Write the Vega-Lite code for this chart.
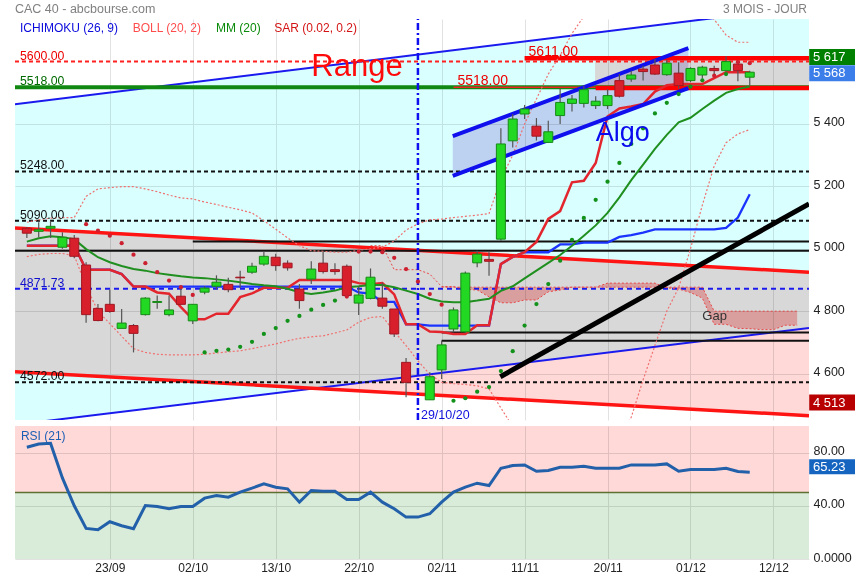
{
"$schema":"https://vega.github.io/schema/vega-lite/v6.json",
"background":"white",
"padding":{"left":14,"top":2,"right":0,"bottom":0},
"spacing":4,
"config":{"view":{"stroke":null},"font":"Liberation Sans"},
"datasets":{
"px":[
{"n":0,"o":5066,"h":5070,"l":5035,"c":5050,"t":5010,"k":5010,"m":5023,"bu":5085,"bl":4975,"r":84},
{"n":1,"o":5056,"h":5085,"l":5037,"c":5061,"t":5010,"k":5010,"m":5034,"bu":5093,"bl":4982,"r":86.5},
{"n":2,"o":5066,"h":5090,"l":5035,"c":5072,"t":5010,"k":5010,"m":5040,"bu":5098,"bl":4985,"r":87},
{"n":3,"o":5005,"h":5053,"l":5000,"c":5037,"t":5010,"k":5010,"m":5037,"bu":5100,"bl":4985,"r":61},
{"n":4,"o":5034,"h":5044,"l":4970,"c":4976,"t":5010,"k":5010,"m":5031,"bu":5100,"bl":4978,"r":40},
{"n":5,"o":4948,"h":4957,"l":4763,"c":4789,"t":4933,"k":4933,"m":4999,"bu":5168,"bl":4880,"s":5079,"r":23},
{"n":6,"o":4809,"h":4823,"l":4768,"c":4770,"t":4933,"k":4933,"m":4973,"bu":5192,"bl":4800,"s":5058,"r":22},
{"n":7,"o":4822,"h":4869,"l":4795,"c":4799,"t":4933,"k":4933,"m":4957,"bu":5196,"bl":4760,"s":5042,"r":28},
{"n":8,"o":4745,"h":4807,"l":4745,"c":4762,"t":4919,"k":4919,"m":4945,"bu":5199,"bl":4720,"s":5018,"r":25},
{"n":9,"o":4754,"h":4759,"l":4668,"c":4729,"t":4879,"k":4879,"m":4935,"bu":5199,"bl":4680,"s":4981,"r":22.75},
{"n":10,"o":4789,"h":4845,"l":4786,"c":4842,"t":4879,"k":4879,"m":4930,"bu":5192,"bl":4668,"s":4954,"r":40.25},
{"n":11,"o":4828,"h":4850,"l":4808,"c":4831,"t":4860,"k":4879,"m":4922,"bu":5183,"bl":4662,"s":4925,"r":39.5},
{"n":12,"o":4789,"h":4850,"l":4784,"c":4804,"t":4856,"k":4879,"m":4917,"bu":5172,"bl":4660,"s":4898,"r":37.75},
{"n":13,"o":4848,"h":4880,"l":4820,"c":4822,"t":4813,"k":4879,"m":4912,"bu":5163,"bl":4660,"s":4877,"r":39.5},
{"n":14,"o":4769,"h":4822,"l":4759,"c":4822,"t":4774,"k":4879,"m":4908,"bu":5160,"bl":4660,"s":4852,"r":39.5},
{"n":15,"o":4861,"h":4880,"l":4854,"c":4874,"t":4774,"k":4879,"m":4906,"bu":5150,"bl":4662,"s":4668,"r":45.75},
{"n":16,"o":4880,"h":4915,"l":4870,"c":4893,"t":4792,"k":4879,"m":4902,"bu":5142,"bl":4666,"s":4673,"r":47.75},
{"n":17,"o":4886,"h":4907,"l":4861,"c":4869,"t":4792,"k":4879,"m":4898,"bu":5133,"bl":4670,"s":4677,"r":46.5},
{"n":18,"o":4909,"h":4930,"l":4874,"c":4907,"t":4845,"k":4879,"m":4893,"bu":5125,"bl":4673,"s":4686,"r":50.25},
{"n":19,"o":4925,"h":4955,"l":4920,"c":4944,"t":4857,"k":4879,"m":4887,"bu":5115,"bl":4680,"s":4702,"r":53.25},
{"n":20,"o":4951,"h":4991,"l":4946,"c":4976,"t":4875,"k":4879,"m":4883,"bu":5090,"bl":4688,"s":4727,"r":56.5},
{"n":21,"o":4973,"h":4984,"l":4930,"c":4946,"t":4875,"k":4879,"m":4880,"bu":5063,"bl":4695,"s":4746,"r":54},
{"n":22,"o":4954,"h":4963,"l":4930,"c":4939,"t":4875,"k":4879,"m":4872,"bu":5035,"bl":4705,"s":4769,"r":52.75},
{"n":23,"o":4871,"h":4887,"l":4808,"c":4834,"t":4900,"k":4879,"m":4861,"bu":5010,"bl":4713,"s":4785,"r":42.75},
{"n":24,"o":4903,"h":4960,"l":4887,"c":4935,"t":4900,"k":4879,"m":4855,"bu":4994,"bl":4718,"s":4805,"r":51.5},
{"n":25,"o":4954,"h":4991,"l":4921,"c":4927,"t":4900,"k":4879,"m":4860,"bu":4992,"bl":4721,"s":4820,"r":51},
{"n":26,"o":4933,"h":4954,"l":4917,"c":4927,"t":4900,"k":4879,"m":4866,"bu":4989,"bl":4730,"s":4834,"r":51},
{"n":27,"o":4944,"h":4950,"l":4847,"c":4850,"t":4900,"k":4879,"m":4877,"bu":4989,"bl":4740,"s":4847,"r":44.75},
{"n":28,"o":4826,"h":4880,"l":4788,"c":4852,"t":4890,"k":4860,"m":4880,"bu":4995,"bl":4765,"s":4991,"r":44.75},
{"n":29,"o":4841,"h":4937,"l":4838,"c":4909,"t":4886,"k":4856,"m":4884,"bu":5000,"bl":4780,"s":4991,"r":50.25,"a":5010},
{"n":30,"o":4842,"h":4891,"l":4808,"c":4816,"t":4890,"k":4830,"m":4884,"bu":5005,"bl":4783,"s":4989,"r":42.75,"a":5010},
{"n":31,"o":4807,"h":4807,"l":4717,"c":4727,"t":4854,"k":4830,"m":4877,"bu":5025,"bl":4735,"s":4971,"r":37.75,"a":4933},
{"n":32,"o":4636,"h":4650,"l":4524,"c":4572,"t":4758,"k":4758,"m":4866,"bu":5060,"bl":4690,"s":4935,"r":31.5,"a":4933},
{"n":33,"t":4758,"k":4758,"m":4855,"bu":5080,"bl":4641,"s":4895,"r":31.5,"a":4933},
{"n":34,"o":4516,"h":4604,"l":4516,"c":4590,"t":4735,"k":4754,"m":4840,"bu":5093,"bl":4598,"s":4855,"r":34,"a":4919},
{"n":35,"o":4612,"h":4705,"l":4583,"c":4692,"t":4733,"k":4754,"m":4831,"bu":5095,"bl":4572,"s":4821,"r":42.75,"a":4879,"b":4877},
{"n":36,"o":4743,"h":4812,"l":4732,"c":4804,"t":4727,"k":4754,"m":4829,"bu":5100,"bl":4568,"s":4513,"r":50.25,"a":4879,"b":4877},
{"n":37,"o":4734,"h":4927,"l":4730,"c":4922,"t":4727,"k":4754,"m":4829,"bu":5104,"bl":4565,"s":4521,"r":54,"a":4870,"b":4877},
{"n":38,"o":4955,"h":4994,"l":4941,"c":4983,"t":4755,"k":4754,"m":4834,"bu":5108,"bl":4561,"s":4542,"r":57,"a":4868,"b":4877},
{"n":39,"o":4966,"h":4989,"l":4914,"c":4960,"t":4755,"k":4754,"m":4840,"bu":5113,"bl":4551,"s":4557,"r":55.25,"a":4846,"b":4877},
{"n":40,"o":5031,"h":5386,"l":5026,"c":5336,"t":4951,"k":4951,"m":4865,"bu":5224,"bl":4490,"s":4608,"r":68.25,"a":4827,"b":4877},
{"n":41,"o":5346,"h":5432,"l":5325,"c":5416,"t":4974,"k":4974,"m":4880,"bu":5300,"bl":4430,"s":4672,"r":70.25,"a":4827,"b":4877},
{"n":42,"o":5432,"h":5461,"l":5416,"c":5448,"t":4989,"k":4989,"m":4905,"bu":5400,"bl":4380,"s":4754,"r":70.75,"a":4836,"b":4877},
{"n":43,"o":5393,"h":5419,"l":5347,"c":5361,"t":5022,"k":4989,"m":4930,"bu":5480,"bl":4340,"s":4823,"r":66,"a":4836,"b":4877},
{"n":44,"o":5341,"h":5410,"l":5341,"c":5375,"t":5096,"k":4989,"m":4955,"bu":5560,"bl":4310,"s":4887,"r":66.5,"a":4862,"b":4877},
{"n":45,"o":5427,"h":5512,"l":5400,"c":5469,"t":5121,"k":5014,"m":4980,"bu":5620,"bl":4290,"s":4962,"r":69,"a":4868,"b":4877},
{"n":46,"o":5466,"h":5493,"l":5440,"c":5480,"t":5213,"k":5014,"m":5010,"bu":5690,"bl":4280,"s":5029,"r":69,"a":4877,"b":4877},
{"n":47,"o":5466,"h":5523,"l":5453,"c":5510,"t":5218,"k":5020,"m":5042,"bu":5745,"bl":4280,"s":5099,"r":69.75,"a":4877,"b":4877},
{"n":48,"o":5459,"h":5489,"l":5448,"c":5473,"t":5275,"k":5020,"m":5075,"bu":5790,"bl":4300,"s":5157,"r":68.25,"a":4877,"b":4877},
{"n":49,"o":5459,"h":5512,"l":5448,"c":5491,"t":5424,"k":5020,"m":5115,"bu":5820,"bl":4340,"s":5215,"r":68.25,"a":4890,"b":4877},
{"n":50,"o":5539,"h":5560,"l":5485,"c":5489,"t":5450,"k":5038,"m":5165,"bu":5840,"bl":4400,"s":5275,"r":68.25,"a":4890,"b":4877},
{"n":51,"o":5544,"h":5571,"l":5535,"c":5557,"t":5456,"k":5044,"m":5220,"bu":5850,"bl":4460,"s":5336,"r":70.75,"a":4890,"b":4877},
{"n":52,"o":5576,"h":5587,"l":5539,"c":5568,"t":5464,"k":5052,"m":5270,"bu":5850,"bl":4580,"s":5386,"r":70.75,"a":4890,"b":4877},
{"n":53,"o":5589,"h":5608,"l":5557,"c":5560,"t":5504,"k":5062,"m":5320,"bu":5840,"bl":4690,"s":5434,"r":70.75,"a":4890,"b":4877},
{"n":54,"o":5558,"h":5606,"l":5555,"c":5595,"t":5524,"k":5062,"m":5365,"bu":5830,"bl":4800,"s":5468,"r":71.5,"a":4875,"b":4877},
{"n":55,"o":5563,"h":5598,"l":5514,"c":5523,"t":5528,"k":5062,"m":5405,"bu":5830,"bl":4875,"s":5496,"r":66,"a":4871,"b":4877},
{"n":56,"o":5539,"h":5582,"l":5534,"c":5578,"t":5528,"k":5062,"m":5420,"bu":5810,"bl":5000,"s":5520,"r":67.25,"a":4860,"b":4877},
{"n":57,"o":5557,"h":5587,"l":5546,"c":5582,"t":5528,"k":5062,"m":5448,"bu":5780,"bl":5140,"s":5540,"r":67.25,"a":4842,"b":4877},
{"n":58,"o":5578,"h":5587,"l":5553,"c":5571,"t":5547,"k":5062,"m":5475,"bu":5735,"bl":5266,"s":5555,"r":67.25,"a":4758,"b":4800},
{"n":59,"o":5571,"h":5617,"l":5568,"c":5600,"t":5566,"k":5067,"m":5500,"bu":5685,"bl":5340,"s":5560,"r":68.25,"a":4758,"b":4800},
{"n":60,"o":5592,"h":5598,"l":5537,"c":5571,"t":5566,"k":5100,"m":5512,"bu":5662,"bl":5368,"s":5598,"r":65.75,"a":4745,"b":4800},
{"n":61,"o":5550,"h":5571,"l":5523,"c":5566,"t":5566,"k":5175,"m":5520,"bu":5662,"bl":5382,"s":5595,"r":65.25,"a":4744,"b":4800},
{"n":62,"a":4741,"b":4800},
{"n":63,"a":4741,"b":4800},
{"n":64,"a":4755,"b":4800},
{"n":65,"a":4755,"b":4800}
],
"segs":[
{"k":"bt","n1":-1,"p1":5463,"n2":66,"p2":5777},
{"k":"bt","n1":-1,"p1":4436,"n2":66,"p2":4746},
{"k":"rt","n1":-1,"p1":5067,"n2":66,"p2":4925},
{"k":"rt","n1":-1,"p1":4606,"n2":66,"p2":4465},
{"k":"kd","n1":-1,"p1":5248,"n2":66,"p2":5248},
{"k":"kd","n1":-1,"p1":5090,"n2":66,"p2":5090},
{"k":"kd","n1":-1,"p1":4572,"n2":66,"p2":4572},
{"k":"bd","n1":-1,"p1":4871.73,"n2":66,"p2":4871.73},
{"k":"k2","n1":14,"p1":5023,"n2":66,"p2":5023},
{"k":"k2","n1":-1,"p1":4994,"n2":66,"p2":4994},
{"k":"k2","n1":35,"p1":4732,"n2":66,"p2":4732},
{"k":"k2","n1":35,"p1":4705,"n2":66,"p2":4705},
{"k":"rd","n1":-1,"p1":5600,"n2":66,"p2":5600},
{"k":"g","n1":-1,"p1":5518,"n2":66,"p2":5518},
{"k":"rthin","n1":36,"p1":5518,"n2":48,"p2":5518},
{"k":"rth","n1":48,"p1":5515,"n2":66,"p2":5515},
{"k":"rth","n1":42,"p1":5611,"n2":66,"p2":5611},
{"k":"bk5","n1":39.95,"p1":4590,"n2":66,"p2":5144},
{"k":"algo","n1":35.94,"p1":5361,"n2":55.82,"p2":5643},
{"k":"algo","n1":35.94,"p1":5234,"n2":55.82,"p2":5515},
{"k":"vd","n1":33,"p1":4451.3,"n2":33,"p2":5736.5}
],
"chanUp":[{"n":-1,"lo":4451.3,"hi":5463},{"n":2.31,"lo":4451.3,"hi":5478.5},{"n":57.37,"lo":4706.1,"hi":5736.5},{"n":66,"lo":4746,"hi":5736.5}],
"chanDn":[{"n":-1,"lo":4606,"hi":5067},{"n":66,"lo":4465,"hi":4925}],
"algo":[{"n":35.94,"lo":5234,"hi":5361},{"n":55.82,"lo":5515,"hi":5643}],
"lv":[
{"t":"5600.00","n":-1,"p":5600,"k":"r"},{"t":"5518.00","n":-1,"p":5518,"k":"g"},
{"t":"5248.00","n":-1,"p":5248,"k":"k"},{"t":"5090.00","n":-1,"p":5090,"k":"k"},
{"t":"4871.73","n":-1,"p":4871.73,"k":"b"},{"t":"4572.00","n":-1,"p":4572,"k":"k"},
{"t":"5611.00","n":42,"p":5611,"k":"r"},{"t":"5518.00","n":36,"p":5518,"k":"r"}
],
"leg":[
{"t":"ICHIMOKU (26, 9)","n":-0.58,"k":"i"},{"t":"BOLL (20, 2)","n":8.93,"k":"bo"},
{"t":"MM (20)","n":15.96,"k":"m"},{"t":"SAR (0.02, 0.2)","n":20.88,"k":"s"}
],
"badge":[{"t":"5 617","p":5615,"k":"g"},{"t":"5 568","p":5563,"k":"b"},{"t":"4 513","p":4507,"k":"r"}],
"zones":[{"z":"hi","lo":50,"hi":100},{"z":"lo","lo":0,"hi":50}]
},
"vconcat":[
{
"width":794,"height":401,
"resolve":{"scale":{"color":"independent"}},
"layer":[
{"data":{"name":"chanUp"},"mark":{"type":"area","blend":"multiply","color":"#d9ffff"},
 "encoding":{
  "x":{"field":"n","type":"quantitative","scale":{"domain":[-1,66],"nice":false,"zero":false,"padding":0},
   "axis":{"values":[7,14,21,28,35,42,49,56,63],"labels":false,"ticks":false,"domain":false,"grid":true,"gridColor":"#e2e2e2","title":null}},
  "y":{"field":"lo","type":"quantitative","scale":{"domain":[4451.3,5736.5],"nice":false,"zero":false},
   "axis":{"orient":"right","values":[4600,4800,5000,5200,5400],"labelExpr":"toString(floor(datum.value/1000)) + ' ' + substring(toString(datum.value), 1)","ticks":false,"domain":false,"grid":true,"gridColor":"#e2e2e2","labelFontSize":12.5,"labelColor":"#222222","labelPadding":4,"labelOffset":-2,"title":null}},
  "y2":{"field":"hi"}}},
{"data":{"name":"chanDn"},"mark":{"type":"area","blend":"multiply","color":"#ffd8d8"},
 "encoding":{"x":{"field":"n","type":"quantitative"},"y":{"field":"lo","type":"quantitative"},"y2":{"field":"hi"}}},
{"data":{"values":[{"n1":47.95,"n2":66,"p1":5518,"p2":5611}]},"mark":{"type":"rect","blend":"multiply","color":"#ffd8d8"},
 "encoding":{"x":{"field":"n1","type":"quantitative"},"x2":{"field":"n2"},"y":{"field":"p1","type":"quantitative"},"y2":{"field":"p2"}}},
{"data":{"name":"algo"},"mark":{"type":"area","blend":"multiply","color":"#ddd2f0"},
 "encoding":{"x":{"field":"n","type":"quantitative"},"y":{"field":"lo","type":"quantitative"},"y2":{"field":"hi"}}},
{"data":{"name":"px"},"transform":[{"filter":"isValid(datum.b)"}],"mark":{"type":"area","blend":"multiply","color":"#ffbcbc"},
 "encoding":{"x":{"field":"n","type":"quantitative"},"y":{"field":"a","type":"quantitative"},"y2":{"field":"b"}}},
{"data":{"name":"segs"},"transform":[{"filter":"datum.k=='bt'"}],"mark":{"type":"rule","clip":true,"color":"#1a1aee","strokeWidth":2},
 "encoding":{"x":{"field":"n1","type":"quantitative"},"x2":{"field":"n2"},"y":{"field":"p1","type":"quantitative"},"y2":{"field":"p2"}}},
{"data":{"name":"segs"},"transform":[{"filter":"datum.k=='rt'"}],"mark":{"type":"rule","clip":true,"color":"#ff1414","strokeWidth":3.5},
 "encoding":{"x":{"field":"n1","type":"quantitative"},"x2":{"field":"n2"},"y":{"field":"p1","type":"quantitative"},"y2":{"field":"p2"}}},
{"data":{"name":"segs"},"transform":[{"filter":"datum.k=='kd'"}],"mark":{"type":"rule","clip":true,"color":"#111111","strokeWidth":2,"strokeDash":[4,3]},
 "encoding":{"x":{"field":"n1","type":"quantitative"},"x2":{"field":"n2"},"y":{"field":"p1","type":"quantitative"},"y2":{"field":"p2"}}},
{"data":{"name":"segs"},"transform":[{"filter":"datum.k=='bd'"}],"mark":{"type":"rule","clip":true,"color":"#1a1aee","strokeWidth":2,"strokeDash":[5,4]},
 "encoding":{"x":{"field":"n1","type":"quantitative"},"x2":{"field":"n2"},"y":{"field":"p1","type":"quantitative"},"y2":{"field":"p2"}}},
{"data":{"name":"segs"},"transform":[{"filter":"datum.k=='k2'"}],"mark":{"type":"rule","clip":true,"color":"#111111","strokeWidth":2},
 "encoding":{"x":{"field":"n1","type":"quantitative"},"x2":{"field":"n2"},"y":{"field":"p1","type":"quantitative"},"y2":{"field":"p2"}}},
{"data":{"name":"segs"},"transform":[{"filter":"datum.k=='rd'"}],"mark":{"type":"rule","clip":true,"color":"#ff2020","strokeWidth":2,"strokeDash":[4,3]},
 "encoding":{"x":{"field":"n1","type":"quantitative"},"x2":{"field":"n2"},"y":{"field":"p1","type":"quantitative"},"y2":{"field":"p2"}}},
{"data":{"name":"segs"},"transform":[{"filter":"datum.k=='g'"}],"mark":{"type":"rule","clip":true,"color":"#118811","strokeWidth":4},
 "encoding":{"x":{"field":"n1","type":"quantitative"},"x2":{"field":"n2"},"y":{"field":"p1","type":"quantitative"},"y2":{"field":"p2"}}},
{"data":{"name":"segs"},"transform":[{"filter":"datum.k=='rthin'"}],"mark":{"type":"rule","clip":true,"color":"#ee2222","strokeWidth":1.5},
 "encoding":{"x":{"field":"n1","type":"quantitative"},"x2":{"field":"n2"},"y":{"field":"p1","type":"quantitative"},"y2":{"field":"p2"}}},
{"data":{"name":"segs"},"transform":[{"filter":"datum.k=='rth'"}],"mark":{"type":"rule","clip":true,"color":"#ff0000","strokeWidth":4.5},
 "encoding":{"x":{"field":"n1","type":"quantitative"},"x2":{"field":"n2"},"y":{"field":"p1","type":"quantitative"},"y2":{"field":"p2"}}},
{"data":{"name":"px"},"mark":{"type":"line","clip":true,"color":"#e84848","strokeWidth":1,"strokeDash":[2,2]},
 "encoding":{"x":{"field":"n","type":"quantitative"},"y":{"field":"a","type":"quantitative"}}},
{"data":{"name":"px"},"mark":{"type":"line","clip":true,"color":"#e84848","strokeWidth":1,"strokeDash":[2,2]},
 "encoding":{"x":{"field":"n","type":"quantitative"},"y":{"field":"b","type":"quantitative"}}},
{"data":{"name":"px"},"mark":{"type":"line","clip":true,"color":"#f07070","strokeWidth":1.2,"strokeDash":[2,2]},
 "encoding":{"x":{"field":"n","type":"quantitative"},"y":{"field":"bu","type":"quantitative"}}},
{"data":{"name":"px"},"mark":{"type":"line","clip":true,"color":"#f07070","strokeWidth":1.2,"strokeDash":[2,2]},
 "encoding":{"x":{"field":"n","type":"quantitative"},"y":{"field":"bl","type":"quantitative"}}},
{"data":{"name":"px"},"mark":{"type":"line","clip":true,"color":"#1a33ff","strokeWidth":2.3},
 "encoding":{"x":{"field":"n","type":"quantitative"},"y":{"field":"k","type":"quantitative"}}},
{"data":{"name":"px"},"mark":{"type":"line","clip":true,"color":"#e3262e","strokeWidth":2.5},
 "encoding":{"x":{"field":"n","type":"quantitative"},"y":{"field":"t","type":"quantitative"}}},
{"data":{"name":"px"},"mark":{"type":"line","clip":true,"color":"#1f8f1f","strokeWidth":2},
 "encoding":{"x":{"field":"n","type":"quantitative"},"y":{"field":"m","type":"quantitative"}}},
{"data":{"name":"segs"},"transform":[{"filter":"datum.k=='bk5'"}],"mark":{"type":"rule","clip":true,"color":"#000000","strokeWidth":5},
 "encoding":{"x":{"field":"n1","type":"quantitative"},"x2":{"field":"n2"},"y":{"field":"p1","type":"quantitative"},"y2":{"field":"p2"}}},
{"data":{"name":"segs"},"transform":[{"filter":"datum.k=='algo'"}],"mark":{"type":"rule","clip":true,"color":"#1010ee","strokeWidth":4},
 "encoding":{"x":{"field":"n1","type":"quantitative"},"x2":{"field":"n2"},"y":{"field":"p1","type":"quantitative"},"y2":{"field":"p2"}}},
{"data":{"name":"segs"},"transform":[{"filter":"datum.k=='vd'"}],"mark":{"type":"rule","clip":true,"color":"#1010ee","strokeWidth":2.5,"strokeDash":[7,3,2,3]},
 "encoding":{"x":{"field":"n1","type":"quantitative"},"x2":{"field":"n2"},"y":{"field":"p1","type":"quantitative"},"y2":{"field":"p2"}}},
{"data":{"name":"px"},"mark":{"type":"rule","color":"#555555","strokeWidth":1.2},
 "encoding":{"x":{"field":"n","type":"quantitative"},"y":{"field":"l","type":"quantitative"},"y2":{"field":"h"}}},
{"data":{"name":"px"},"mark":{"type":"bar","size":9,"strokeWidth":1},
 "encoding":{"x":{"field":"n","type":"quantitative"},"y":{"field":"o","type":"quantitative"},"y2":{"field":"c"},
  "fill":{"condition":{"test":"datum.c >= datum.o","value":"#22d822"},"value":"#d8202c"},
  "stroke":{"condition":{"test":"datum.c >= datum.o","value":"#178a17"},"value":"#a01622"}}},
{"data":{"name":"px"},"mark":{"type":"circle","size":18,"opacity":1},
 "encoding":{"x":{"field":"n","type":"quantitative"},"y":{"field":"s","type":"quantitative"},
  "color":{"condition":{"test":"datum.s < datum.l","value":"#12921a"},"value":"#cc1f2f"}}},
{"data":{"name":"lv"},"transform":[{"filter":"datum.n < 0"}],"mark":{"type":"text","align":"left","baseline":"alphabetic","dx":5,"dy":-2,"fontSize":12.3},
 "encoding":{"x":{"field":"n","type":"quantitative"},"y":{"field":"p","type":"quantitative"},"text":{"field":"t"},
  "color":{"field":"k","type":"nominal","scale":{"domain":["r","g","k","b"],"range":["#ee0000","#006a00","#111111","#1010cc"]},"legend":null}}},
{"data":{"name":"lv"},"transform":[{"filter":"datum.n >= 0"}],"mark":{"type":"text","align":"left","baseline":"alphabetic","dx":4,"dy":-2,"fontSize":14,"color":"#ee0000"},
 "encoding":{"x":{"field":"n","type":"quantitative"},"y":{"field":"p","type":"quantitative"},"text":{"field":"t"}}},
{"data":{"name":"leg"},"mark":{"type":"text","align":"left","baseline":"alphabetic","fontSize":12},
 "encoding":{"x":{"field":"n","type":"quantitative"},"y":{"datum":5694,"type":"quantitative"},"text":{"field":"t"},
  "color":{"field":"k","type":"nominal","scale":{"domain":["i","bo","m","s"],"range":["#0a0adc","#ff4d4d","#0a8a0a","#d41414"]},"legend":null}}},
{"data":{"values":[{"t":"CAC 40 - abcbourse.com","n":-1,"p":5757}]},"mark":{"type":"text","align":"left","baseline":"alphabetic","fontSize":12.5,"color":"#808080"},
 "encoding":{"x":{"field":"n","type":"quantitative"},"y":{"field":"p","type":"quantitative"},"text":{"field":"t"}}},
{"data":{"values":[{"t":"3 MOIS - JOUR","n":66,"p":5757}]},"mark":{"type":"text","align":"right","baseline":"alphabetic","fontSize":12,"color":"#808080","dx":-2},
 "encoding":{"x":{"field":"n","type":"quantitative"},"y":{"field":"p","type":"quantitative"},"text":{"field":"t"}}},
{"data":{"values":[{"t":"Range","n":24,"p":5554}]},"mark":{"type":"text","align":"left","baseline":"alphabetic","fontSize":31,"color":"#ff0a0a"},
 "encoding":{"x":{"field":"n","type":"quantitative"},"y":{"field":"p","type":"quantitative"},"text":{"field":"t"}}},
{"data":{"values":[{"t":"Algo","n":48,"p":5346}]},"mark":{"type":"text","align":"left","baseline":"alphabetic","fontSize":27,"color":"#0a0aee"},
 "encoding":{"x":{"field":"n","type":"quantitative"},"y":{"field":"p","type":"quantitative"},"text":{"field":"t"}}},
{"data":{"values":[{"t":"Gap","n":57,"p":4772}]},"mark":{"type":"text","align":"left","baseline":"alphabetic","fontSize":13,"color":"#333333"},
 "encoding":{"x":{"field":"n","type":"quantitative"},"y":{"field":"p","type":"quantitative"},"text":{"field":"t"}}},
{"data":{"values":[{"t":"29/10/20","n":33,"p":4456}]},"mark":{"type":"text","align":"left","baseline":"alphabetic","fontSize":12.5,"color":"#1010dd","dx":3},
 "encoding":{"x":{"field":"n","type":"quantitative"},"y":{"field":"p","type":"quantitative"},"text":{"field":"t"}}},
{"data":{"name":"badge"},"mark":{"type":"tick","orient":"horizontal","size":47,"thickness":16,"opacity":1},
 "encoding":{"x":{"datum":68,"type":"quantitative"},"y":{"field":"p","type":"quantitative"},
  "color":{"field":"k","type":"nominal","scale":{"domain":["g","b","r"],"range":["#008000","#3b7de9","#b80000"]},"legend":null}}},
{"data":{"name":"badge"},"mark":{"type":"text","align":"left","baseline":"middle","dx":4,"fontSize":13,"color":"#ffffff"},
 "encoding":{"x":{"datum":66,"type":"quantitative"},"y":{"field":"p","type":"quantitative"},"text":{"field":"t"}}}
]
},
{
"width":794,"height":133,
"resolve":{"scale":{"color":"independent"}},
"layer":[
{"data":{"name":"zones"},"mark":{"type":"rect","blend":"multiply"},
 "encoding":{
  "x":{"datum":-1,"type":"quantitative","scale":{"domain":[-1,66],"nice":false,"zero":false,"padding":0},
   "axis":{"values":[7,14,21,28,35,42,49,56,63],"labelExpr":"datum.value == 7 ? '23/09' : datum.value == 14 ? '02/10' : datum.value == 21 ? '13/10' : datum.value == 28 ? '22/10' : datum.value == 35 ? '02/11' : datum.value == 42 ? '11/11' : datum.value == 49 ? '20/11' : datum.value == 56 ? '01/12' : '12/12'","ticks":false,"domain":false,"grid":true,"gridColor":"#e2e2e2","labelFontSize":12,"labelColor":"#222222","labelPadding":3,"title":null}},
  "x2":{"datum":66},
  "y":{"field":"lo","type":"quantitative","scale":{"domain":[0,100],"nice":false,"zero":false},
   "axis":{"orient":"right","values":[0,40,80],"labelExpr":"datum.value == 0 ? '0.0000' : toString(datum.value) + '.00'","ticks":false,"domain":false,"grid":true,"gridColor":"#e2e2e2","labelFontSize":12.5,"labelColor":"#222222","labelPadding":4,"labelOffset":-2,"title":null}},
  "y2":{"field":"hi"},
  "color":{"field":"z","type":"nominal","scale":{"domain":["hi","lo"],"range":["#ffd8d8","#d9ecd9"]},"legend":null}}},
{"data":{"values":[{"v":50}]},"mark":{"type":"rule","color":"#5d7030","strokeWidth":1.5},
 "encoding":{"y":{"field":"v","type":"quantitative"}}},
{"data":{"name":"px"},"mark":{"type":"line","color":"#2360aa","strokeWidth":3},
 "encoding":{"x":{"field":"n","type":"quantitative"},"y":{"field":"r","type":"quantitative"}}},
{"data":{"values":[{"t":"RSI (21)","n":-0.5,"v":89.5}]},"mark":{"type":"text","align":"left","baseline":"alphabetic","fontSize":12,"color":"#1a5fb4"},
 "encoding":{"x":{"field":"n","type":"quantitative"},"y":{"field":"v","type":"quantitative"},"text":{"field":"t"}}},
{"data":{"values":[{"t":"65.23","v":69.4}]},"mark":{"type":"tick","orient":"horizontal","size":47,"thickness":15,"opacity":1,"color":"#1565c0"},
 "encoding":{"x":{"datum":68,"type":"quantitative"},"y":{"field":"v","type":"quantitative"}}},
{"data":{"values":[{"t":"65.23","v":69.4}]},"mark":{"type":"text","align":"left","baseline":"middle","dx":4,"fontSize":13,"color":"#ffffff"},
 "encoding":{"x":{"datum":66,"type":"quantitative"},"y":{"field":"v","type":"quantitative"},"text":{"field":"t"}}}
]
}
]
}
